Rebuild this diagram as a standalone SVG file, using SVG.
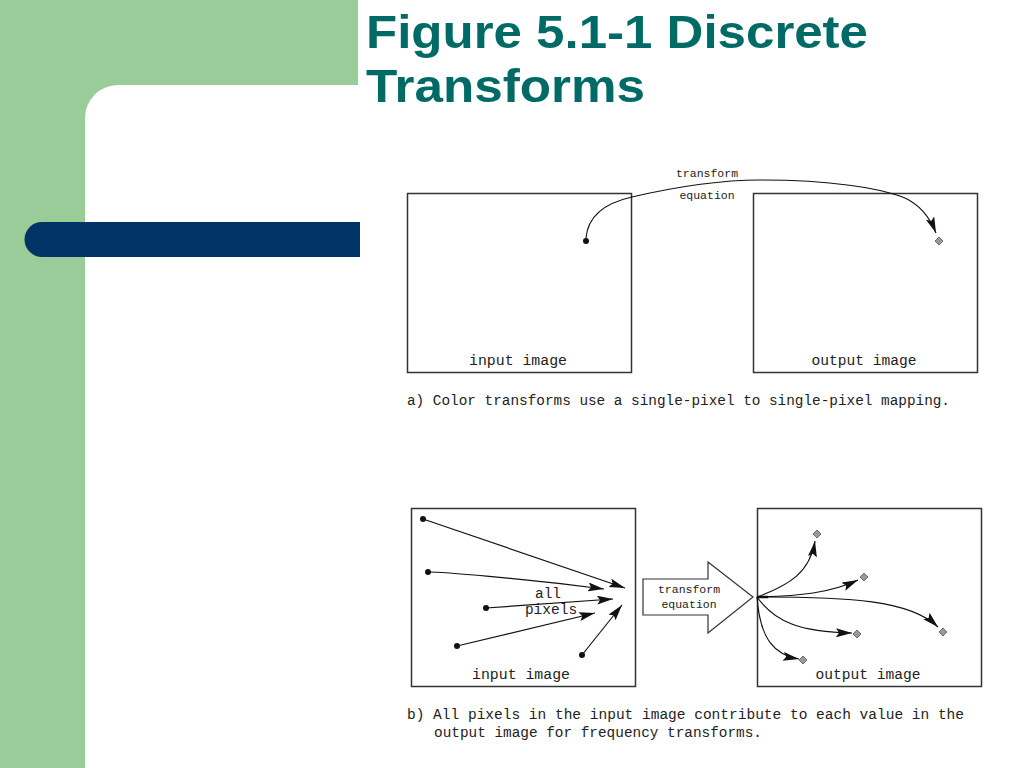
<svg xmlns="http://www.w3.org/2000/svg" width="1024" height="768" viewBox="0 0 1024 768">
<defs>
<style>
.box{fill:#fff;stroke:#333;stroke-width:1.5}
.ln{fill:none;stroke:#111;stroke-width:1.2}
.lbl{font-family:"Liberation Mono","DejaVu Sans Mono",monospace;fill:#222}
.dot{fill:#111}
.dia{fill:#999;stroke:#555;stroke-width:0.8}
</style>
<marker id="ah" markerWidth="18" markerHeight="10" refX="16" refY="4.5" orient="auto" markerUnits="userSpaceOnUse">
<path d="M0,0 L16,4.5 L0,9 L3,4.5 Z" fill="#111"/>
</marker>
</defs>
<rect width="1024" height="768" fill="#fff"/>
<g id="decor">
<path d="M0,0 H358 V85 H118 A33,33 0 0 0 85,118 V768 H0 Z" fill="#99CC99"/>
<path d="M360,222 V257 H42 A17.5,17.5 0 0 1 42,222 Z" fill="#003366"/>
</g>
<g id="title" font-family="'Liberation Sans',Arial,sans-serif" font-weight="bold" font-size="46" fill="#006B66">
<text x="366" y="48" textLength="502" lengthAdjust="spacingAndGlyphs">Figure 5.1-1 Discrete</text>
<text x="366" y="102" textLength="279" lengthAdjust="spacingAndGlyphs">Transforms</text>
</g>
<g id="a-input">
<rect class="box" x="407.5" y="193.5" width="224" height="179"/>
<text class="lbl" x="518" y="365" font-size="14.5" text-anchor="middle" textLength="98" lengthAdjust="spacingAndGlyphs">input image</text>
<circle class="dot" cx="586" cy="241" r="3"/>
</g>
<g id="a-output">
<rect class="box" x="753.5" y="193.5" width="224" height="179"/>
<text class="lbl" x="864" y="365" font-size="14.5" text-anchor="middle" textLength="105" lengthAdjust="spacingAndGlyphs">output image</text>
<path class="dia" d="M939,237 L943,241 L939,245 L935,241 Z"/>
</g>
<g id="a-label">
<text class="lbl" x="707" y="177" font-size="11.5" text-anchor="middle">transform</text>
<text class="lbl" x="707" y="199" font-size="11.5" text-anchor="middle">equation</text>
</g>
<g id="b-input">
<rect class="box" x="411.5" y="508.5" width="224" height="178"/>
<circle class="dot" cx="423" cy="519" r="3"/>
<circle class="dot" cx="428" cy="572" r="3"/>
<circle class="dot" cx="486" cy="608" r="3"/>
<circle class="dot" cx="457" cy="646" r="3"/>
<circle class="dot" cx="582" cy="655" r="3"/>
<text class="lbl" x="548" y="598" font-size="14.5" text-anchor="middle">all</text>
<text class="lbl" x="551" y="614" font-size="14.5" text-anchor="middle">pixels</text>
<text class="lbl" x="521" y="679" font-size="14.5" text-anchor="middle" textLength="98" lengthAdjust="spacingAndGlyphs">input image</text>
</g>
<g id="b-arrow">
<polygon points="643,579 708,579 708,562 753,597 708,633 708,615 643,615" fill="#fff" stroke="#333" stroke-width="1.2"/>
<text class="lbl" x="689" y="593" font-size="11.5" text-anchor="middle">transform</text>
<text class="lbl" x="689" y="608" font-size="11.5" text-anchor="middle">equation</text>
</g>
<g id="b-output">
<rect class="box" x="757.5" y="508.5" width="224" height="178"/>
<path class="dia" d="M817,530 L821,534 L817,538 L813,534 Z"/>
<path class="dia" d="M864,573 L868,577 L864,581 L860,577 Z"/>
<path class="dia" d="M943,628 L947,632 L943,636 L939,632 Z"/>
<path class="dia" d="M857,630 L861,634 L857,638 L853,634 Z"/>
<path class="dia" d="M803,656 L807,660 L803,664 L799,660 Z"/>
<text class="lbl" x="868" y="679" font-size="14.5" text-anchor="middle" textLength="105" lengthAdjust="spacingAndGlyphs">output image</text>
</g>
<g id="connectors">
<path class="ln" d="M586,238 C588,215 605,203 632,197 C675,187 720,180 760,180 C830,180 880,188 905,198 C920,205 930,218 936,233" marker-end="url(#ah)"/>
<line class="ln" x1="423" y1="519" x2="625" y2="588" marker-end="url(#ah)"/>
<path class="ln" d="M428,572 C440,572 520,578 604,589" marker-end="url(#ah)"/>
<line class="ln" x1="486" y1="608" x2="613" y2="599" marker-end="url(#ah)"/>
<line class="ln" x1="457" y1="646" x2="595" y2="613" marker-end="url(#ah)"/>
<line class="ln" x1="582" y1="655" x2="622" y2="605" marker-end="url(#ah)"/>
<line x1="757" y1="597" x2="768" y2="597" stroke="#111" stroke-width="2.5"/>
<path class="ln" d="M757,597 C790,585 810,572 815,541" marker-end="url(#ah)"/>
<path class="ln" d="M757,597 C800,596 830,593 858,580" marker-end="url(#ah)"/>
<path class="ln" d="M757,597 C850,597 910,600 938,627" marker-end="url(#ah)"/>
<path class="ln" d="M757,597 C775,622 800,632 852,633" marker-end="url(#ah)"/>
<path class="ln" d="M757,597 C760,640 775,655 799,659" marker-end="url(#ah)"/>
</g>
<g id="captions">
<text class="lbl" x="407" y="405" font-size="14" textLength="543" lengthAdjust="spacingAndGlyphs">a) Color transforms use a single-pixel to single-pixel mapping.</text>
<text class="lbl" x="407" y="719" font-size="14" textLength="557" lengthAdjust="spacingAndGlyphs">b) All pixels in the input image contribute to each value in the</text>
<text class="lbl" x="434" y="737" font-size="14" textLength="328" lengthAdjust="spacingAndGlyphs">output image for frequency transforms.</text>
</g>
</svg>
